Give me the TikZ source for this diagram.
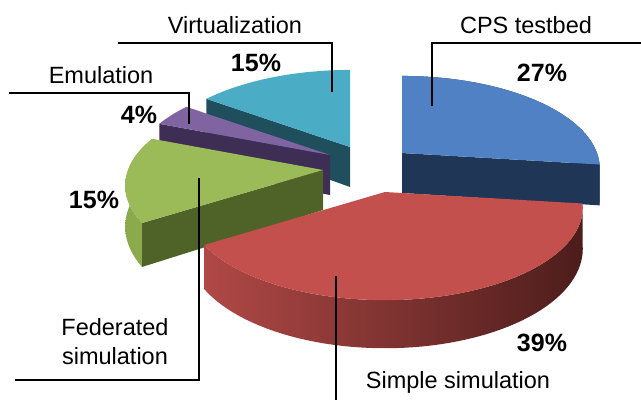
\documentclass[tikz,border=0pt]{standalone}
\usepackage{fontspec}
\setmainfont{Liberation Sans}

\definecolor{cpsTop}{HTML}{4F81C4}
\definecolor{cpsSide}{HTML}{1F3656}
\definecolor{simTop}{HTML}{C4504E}
\definecolor{simRimL}{HTML}{B04846}
\definecolor{simRimR}{HTML}{4C1D1B}
\definecolor{fedTop}{HTML}{9BBB59}
\definecolor{fedSide}{HTML}{4F6228}
\definecolor{fedRim}{HTML}{8AAA4C}
\definecolor{emuTop}{HTML}{8064A2}
\definecolor{emuSide}{HTML}{3E2D55}
\definecolor{virtTop}{HTML}{4BACC6}
\definecolor{virtSide}{HTML}{1F4F5C}

\tikzset{
  lbl/.style={font=\fontsize{23.5}{29}\selectfont, inner sep=0pt, align=center},
  pct/.style={font=\fontsize{25}{29}\selectfont\bfseries, inner sep=0pt},
  leader/.style={draw=black, line width=1.3pt}
}

% one slice, drawn round its apex at (0,0)
\newcommand{\pieTop}[3]{%
  \fill[#3] (0,0) -- plot[domain=#1:#2, samples=60] ({rimx(\x)},{rimy(\x)}) -- cycle;}
\newcommand{\pieRim}[4]{%
  \shade[left color=#3, right color=#4] plot[domain=#1:#2, samples=60] ({rimx(\x)},{rimy(\x)})
    -- plot[domain=#2:#1, samples=60] ({rimx(\x)},{rimy(\x)+dep(\x)}) -- cycle;}
\newcommand{\pieCut}[2]{%
  \fill[#2] (0,0) -- ({rimx(#1)},{rimy(#1)}) -- ({rimx(#1)},{rimy(#1)+dep(#1)}) -- (0,40) -- cycle;}

\begin{document}
\begin{tikzpicture}[x=1pt, y=-1pt,
  declare function={rimx(\t)=195*sin(\t)/(1+0.168*cos(\t));
                    rimy(\t)=-90*cos(\t)/(1+0.168*cos(\t));
                    dep(\t)=40/(1+0.168*cos(\t));}]
\useasboundingbox (0,0) rectangle (641,400);

\coordinate (cVirtCtr) at (350,147);
\coordinate (cCpsCtr) at (402,153);
\coordinate (cEmuCtr) at (330,155);
\coordinate (cFedCtr) at (323,170);
\coordinate (cSimCtr) at (385,192);

% slices, back to front
\begin{scope}[shift={(cVirtCtr)}]
  \pieCut{306}{virtSide}
  \pieTop{306}{360}{virtTop}
\end{scope}
\begin{scope}[shift={(cCpsCtr)}]
  \pieRim{0}{97.2}{cpsSide}{cpsSide}
  \pieCut{97.2}{cpsSide}
  \pieTop{0}{97.2}{cpsTop}
\end{scope}
\begin{scope}[shift={(cEmuCtr)}]
  \pieCut{291.6}{emuSide}
  \pieTop{291.6}{306}{emuTop}
\end{scope}
\begin{scope}[shift={(cFedCtr)}]
  \pieRim{237.6}{291.6}{fedRim}{fedRim}
  \pieCut{237.6}{fedSide}
  \pieTop{237.6}{291.6}{fedTop}
\end{scope}
\begin{scope}[shift={(cSimCtr)}]
  \pieRim{97.2}{237.6}{simRimL}{simRimR}
  \pieTop{97.2}{237.6}{simTop}
\end{scope}

% labels
\node[lbl] (nVirtLbl) at (235,25) {Virtualization};
\node[pct] (nVirtPct) at (256,63) {15\%};
\node[lbl] (nEmuLbl) at (101,75) {Emulation};
\node[pct] (nEmuPct) at (139,115) {4\%};
\node[lbl] (nCpsLbl) at (526,25) {CPS testbed};
\node[pct] (nCpsPct) at (542,73) {27\%};
\node[pct] (nFedPct) at (94,200) {15\%};
\node[lbl] (nFedLbl) at (115,342) {Federated\\simulation};
\node[lbl] (nSimLbl) at (458,382) {Simple simulation};
\node[pct] (nSimPct) at (542,343) {39\%};

% leader lines
\coordinate (cVirtA) at (332,92);
\coordinate (cVirtB) at (332,43);
\coordinate (cVirtC) at (118,43);
\coordinate (cCpsA) at (432,106);
\coordinate (cCpsB) at (432,43);
\coordinate (cCpsC) at (641,43);
\coordinate (cEmuA) at (189,124);
\coordinate (cEmuB) at (189,93);
\coordinate (cEmuC) at (9,93);
\coordinate (cFedA) at (199,178);
\coordinate (cFedB) at (199,380);
\coordinate (cFedC) at (15,380);
\coordinate (cSimA) at (336,276);
\coordinate (cSimB) at (336,400);
\foreach \u/\v/\w in {VirtA/VirtB/VirtC, CpsA/CpsB/CpsC, EmuA/EmuB/EmuC, FedA/FedB/FedC}
{
  \draw[leader] (c\u) -- (c\v) -- (c\w);
};
\draw[leader] (cSimA) -- (cSimB);

\end{tikzpicture}
\end{document}
